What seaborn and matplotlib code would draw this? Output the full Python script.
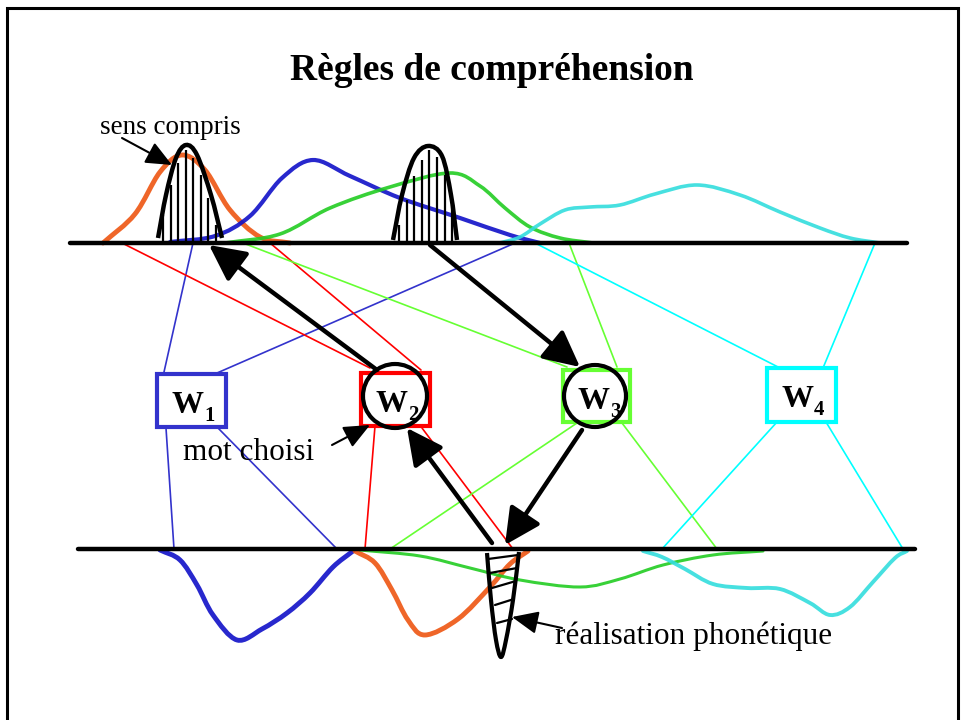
import numpy as np
import pandas as pd
import matplotlib
matplotlib.use("Agg")
import matplotlib.pyplot as plt
from matplotlib.path import Path
from matplotlib.patches import PathPatch, Rectangle, Circle
import seaborn as sns

sns.set_theme(style="white")
plt.rcParams['font.family'] = ['Liberation Serif', 'DejaVu Serif']
plt.rcParams['text.color'] = 'black'

title = "Règles de compréhension"

# axes horizontaux (sens en haut, phonetique en bas)
axis_y = [243, 549]
axis_x0 = [70, 78]
axis_x1 = [907, 915]

# courbes de sens (en haut)
orange_top = [(103, 243), (135, 214), (160, 172), (182, 155), (205, 170), (230, 210), (260, 237), (290, 243)]
blue_top = [(170, 242), (215, 236), (250, 216), (282, 178), (313, 160), (350, 176), (400, 198),
            (460, 218), (510, 235), (540, 243)]
green_top = [(225, 243), (280, 234), (330, 208), (390, 187), (450, 173), (480, 186), (505, 208),
             (530, 227), (560, 238), (593, 243)]
cyan_top = [(500, 243), (520, 237), (540, 224), (565, 210), (590, 207), (620, 205), (655, 194),
            (697, 185), (740, 195), (780, 212), (820, 228), (850, 238), (880, 243)]

# courbes phonetiques (en bas)
blue_bot = [(160, 550), (180, 560), (197, 585), (213, 615), (237, 640), (262, 629),
            (287, 613), (310, 593), (333, 567), (353, 551)]
orange_bot = [(355, 551), (375, 563), (392, 590), (408, 620), (425, 635), (458, 619), (490, 587),
              (510, 564), (528, 551)]
green_bot = [(360, 550), (420, 556), (470, 568), (520, 580), (580, 587), (620, 579),
             (663, 565), (713, 555), (763, 551)]
cyan_bot = [(643, 551), (662, 557), (685, 569), (713, 584), (747, 588), (780, 589), (810, 603),
            (830, 615), (850, 607), (873, 582), (895, 558), (907, 551)]

# cloches noires (sens compris)
bell1 = [(158, 238), (166, 195), (176, 158), (186, 145), (197, 155), (211, 195), (222, 238)]
bell1_x = [163, 171, 178, 186, 193, 201, 208, 216]
bell1_top = [215, 185, 163, 150, 158, 175, 198, 225]
bell2 = [(393, 240), (402, 195), (414, 158), (428, 146), (442, 156), (451, 195), (457, 240)]
bell2_x = [399, 407, 414, 422, 429, 437, 445, 452]
bell2_top = [225, 200, 176, 160, 150, 157, 175, 205]

# entonnoir (realisation phonetique)
funnel = [(487, 553), (491, 600), (496, 640), (501, 657), (506, 640), (513, 600), (519, 552)]
funnel_xl = [488, 490, 492, 495, 497]
funnel_yl = [559, 573, 588, 605, 623]
funnel_xr = [518, 517, 516, 514, 512]
funnel_yr = [555, 568, 581, 599, 619]

# mots
words = ["1", "2", "3", "4"]
word_colors = ["#3333cc", "#ff0000", "#66ff33", "#00ffff"]
box_left = [157, 361, 563, 767]
box_top = [374, 373, 370, 368]
box_right = [226, 430, 630, 836]
box_bottom = [427, 426, 422, 422]

# liens mots <-> axes
link_word = ["1", "1", "1", "1", "2", "2", "2", "2", "3", "3", "3", "3", "4", "4", "4", "4"]
link_x0 = [193, 515, 174, 337, 122, 270, 365, 513, 243, 569, 390, 717, 535, 875, 662, 903]
link_y0 = [243, 243, 549, 549, 243, 243, 549, 549, 243, 243, 549, 549, 243, 243, 549, 549]
link_x1 = [164, 217, 166, 218, 370, 421, 375, 422, 567, 617, 577, 622, 780, 823, 777, 826]
link_y1 = [372, 373, 428, 428, 368, 370, 426, 428, 367, 367, 423, 423, 368, 368, 422, 422]

# cercles sur les mots choisis
circle_x = [395, 595]
circle_y = [396, 396]
circle_r = [32, 31]

# grosses fleches
arrow_x0 = [377, 430, 582, 492]
arrow_y0 = [370, 245, 430, 543]
arrow_x1 = [209, 580, 505, 407]
arrow_y1 = [245, 367, 545, 428]

# legendes
note_text = ["sens compris", "mot choisi", "réalisation phonétique"]
note_size = [19.5, 22.5, 22.5]
note_x = [100, 183, 555]
note_y = [127, 452, 636]
note_ax = [122, 332, 562]
note_ay = [138, 445, 628]
note_tx = [172, 370, 512]
note_ty = [165, 425, 617]


def smooth_path(pts):
    # courbe lisse passant par les points (Bezier cubiques)
    p = np.array(pts, dtype=float)
    n = len(p)
    t = np.zeros_like(p)
    t[1:-1] = (p[2:] - p[:-2]) / 2
    t[0] = p[1] - p[0]
    t[-1] = p[-1] - p[-2]
    verts = [p[0]]
    codes = [Path.MOVETO]
    for i in range(n - 1):
        verts += [p[i] + t[i] / 3, p[i + 1] - t[i + 1] / 3, p[i + 1]]
        codes += [Path.CURVE4] * 3
    return Path(verts, codes)


fig = plt.figure(figsize=(9.61, 7.2), dpi=100)
ax = fig.add_axes([0, 0, 1, 1])
ax.set_xlim(0, 961)
ax.set_ylim(720, 0)
ax.axis('off')

# cadre
ax.plot([7, 7, 958, 958], [720, 8, 8, 720], color='black', lw=2.2, solid_joinstyle='miter')

ax.text(492, 70, title, ha='center', va='center', fontsize=27, fontweight='bold', color='black')

# liens fins
links = pd.DataFrame({'word': link_word * 2,
                      'link': list(range(16)) * 2,
                      'x': link_x0 + link_x1,
                      'y': link_y0 + link_y1})
sns.lineplot(data=links, x='x', y='y', hue='word', units='link', estimator=None, sort=False,
             palette=dict(zip(words, word_colors)), legend=False, lw=1.2, ax=ax)
ax.set_xlabel('')
ax.set_ylabel('')

# courbes colorees
curves = [(orange_top, '#ee5511', 3.5), (blue_top, '#1010c8', 3.0), (green_top, '#22cc22', 2.6),
          (cyan_top, '#33dddd', 2.6), (blue_bot, '#1010c8', 3.5), (orange_bot, '#ee5511', 3.5),
          (green_bot, '#22cc22', 2.2), (cyan_bot, '#33dddd', 2.8)]
for pts, col, lw in curves:
    ax.add_patch(PathPatch(smooth_path(pts), fill=False, edgecolor=col, lw=lw, alpha=0.9,
                           capstyle='round', zorder=2))

# axes
for y, x0, x1 in zip(axis_y, axis_x0, axis_x1):
    ax.plot([x0, x1], [y, y], color='black', lw=3.2, zorder=4)

# cloches
for bell, bx, btop in [(bell1, bell1_x, bell1_top), (bell2, bell2_x, bell2_top)]:
    ax.add_patch(PathPatch(smooth_path(bell), fill=False, edgecolor='black', lw=3.2, zorder=5))
    ax.vlines(bx, btop, axis_y[0], color='black', lw=1.6, zorder=5)

ax.add_patch(PathPatch(smooth_path(funnel), fill=False, edgecolor='black', lw=3.0, zorder=5))
for xl, yl, xr, yr in zip(funnel_xl, funnel_yl, funnel_xr, funnel_yr):
    ax.plot([xl, xr], [yl, yr], color='black', lw=1.6, zorder=5)

# boites des mots
for w, col, l, t, r, b in zip(words, word_colors, box_left, box_top, box_right, box_bottom):
    ax.add_patch(Rectangle((l, t), r - l, b - t, fill=True, facecolor='white', edgecolor=col,
                           lw=3.0, zorder=6))
    ax.text(l + 14, t + 39, 'W', fontsize=23, fontweight='bold', ha='left', va='baseline',
            color='black', zorder=8)
    ax.text(l + 47, t + 47, w, fontsize=15, fontweight='bold', ha='left', va='baseline',
            color='black', zorder=8)

for cx, cy, r in zip(circle_x, circle_y, circle_r):
    ax.add_patch(Circle((cx, cy), r, fill=False, edgecolor='black', lw=3.0, zorder=7))

# grosses fleches
for x0, y0, x1, y1 in zip(arrow_x0, arrow_y0, arrow_x1, arrow_y1):
    ax.annotate('', xy=(x1, y1), xytext=(x0, y0),
                arrowprops=dict(arrowstyle='-|>,head_length=1.0,head_width=0.5', lw=3.2,
                                color='black', shrinkA=0, shrinkB=0, mutation_scale=22),
                zorder=9)

# legendes
for txt, fs, x, y, ax0, ay0, tx, ty in zip(note_text, note_size, note_x, note_y,
                                            note_ax, note_ay, note_tx, note_ty):
    ax.text(x, y, txt, fontsize=fs, ha='left', va='center', color='black', zorder=10)
    ax.annotate('', xy=(tx, ty), xytext=(ax0, ay0),
                arrowprops=dict(arrowstyle='-|>,head_length=0.8,head_width=0.35', lw=1.5,
                                color='black', shrinkA=0, shrinkB=0, mutation_scale=20),
                zorder=10)

fig.savefig('out.png', dpi=100)
